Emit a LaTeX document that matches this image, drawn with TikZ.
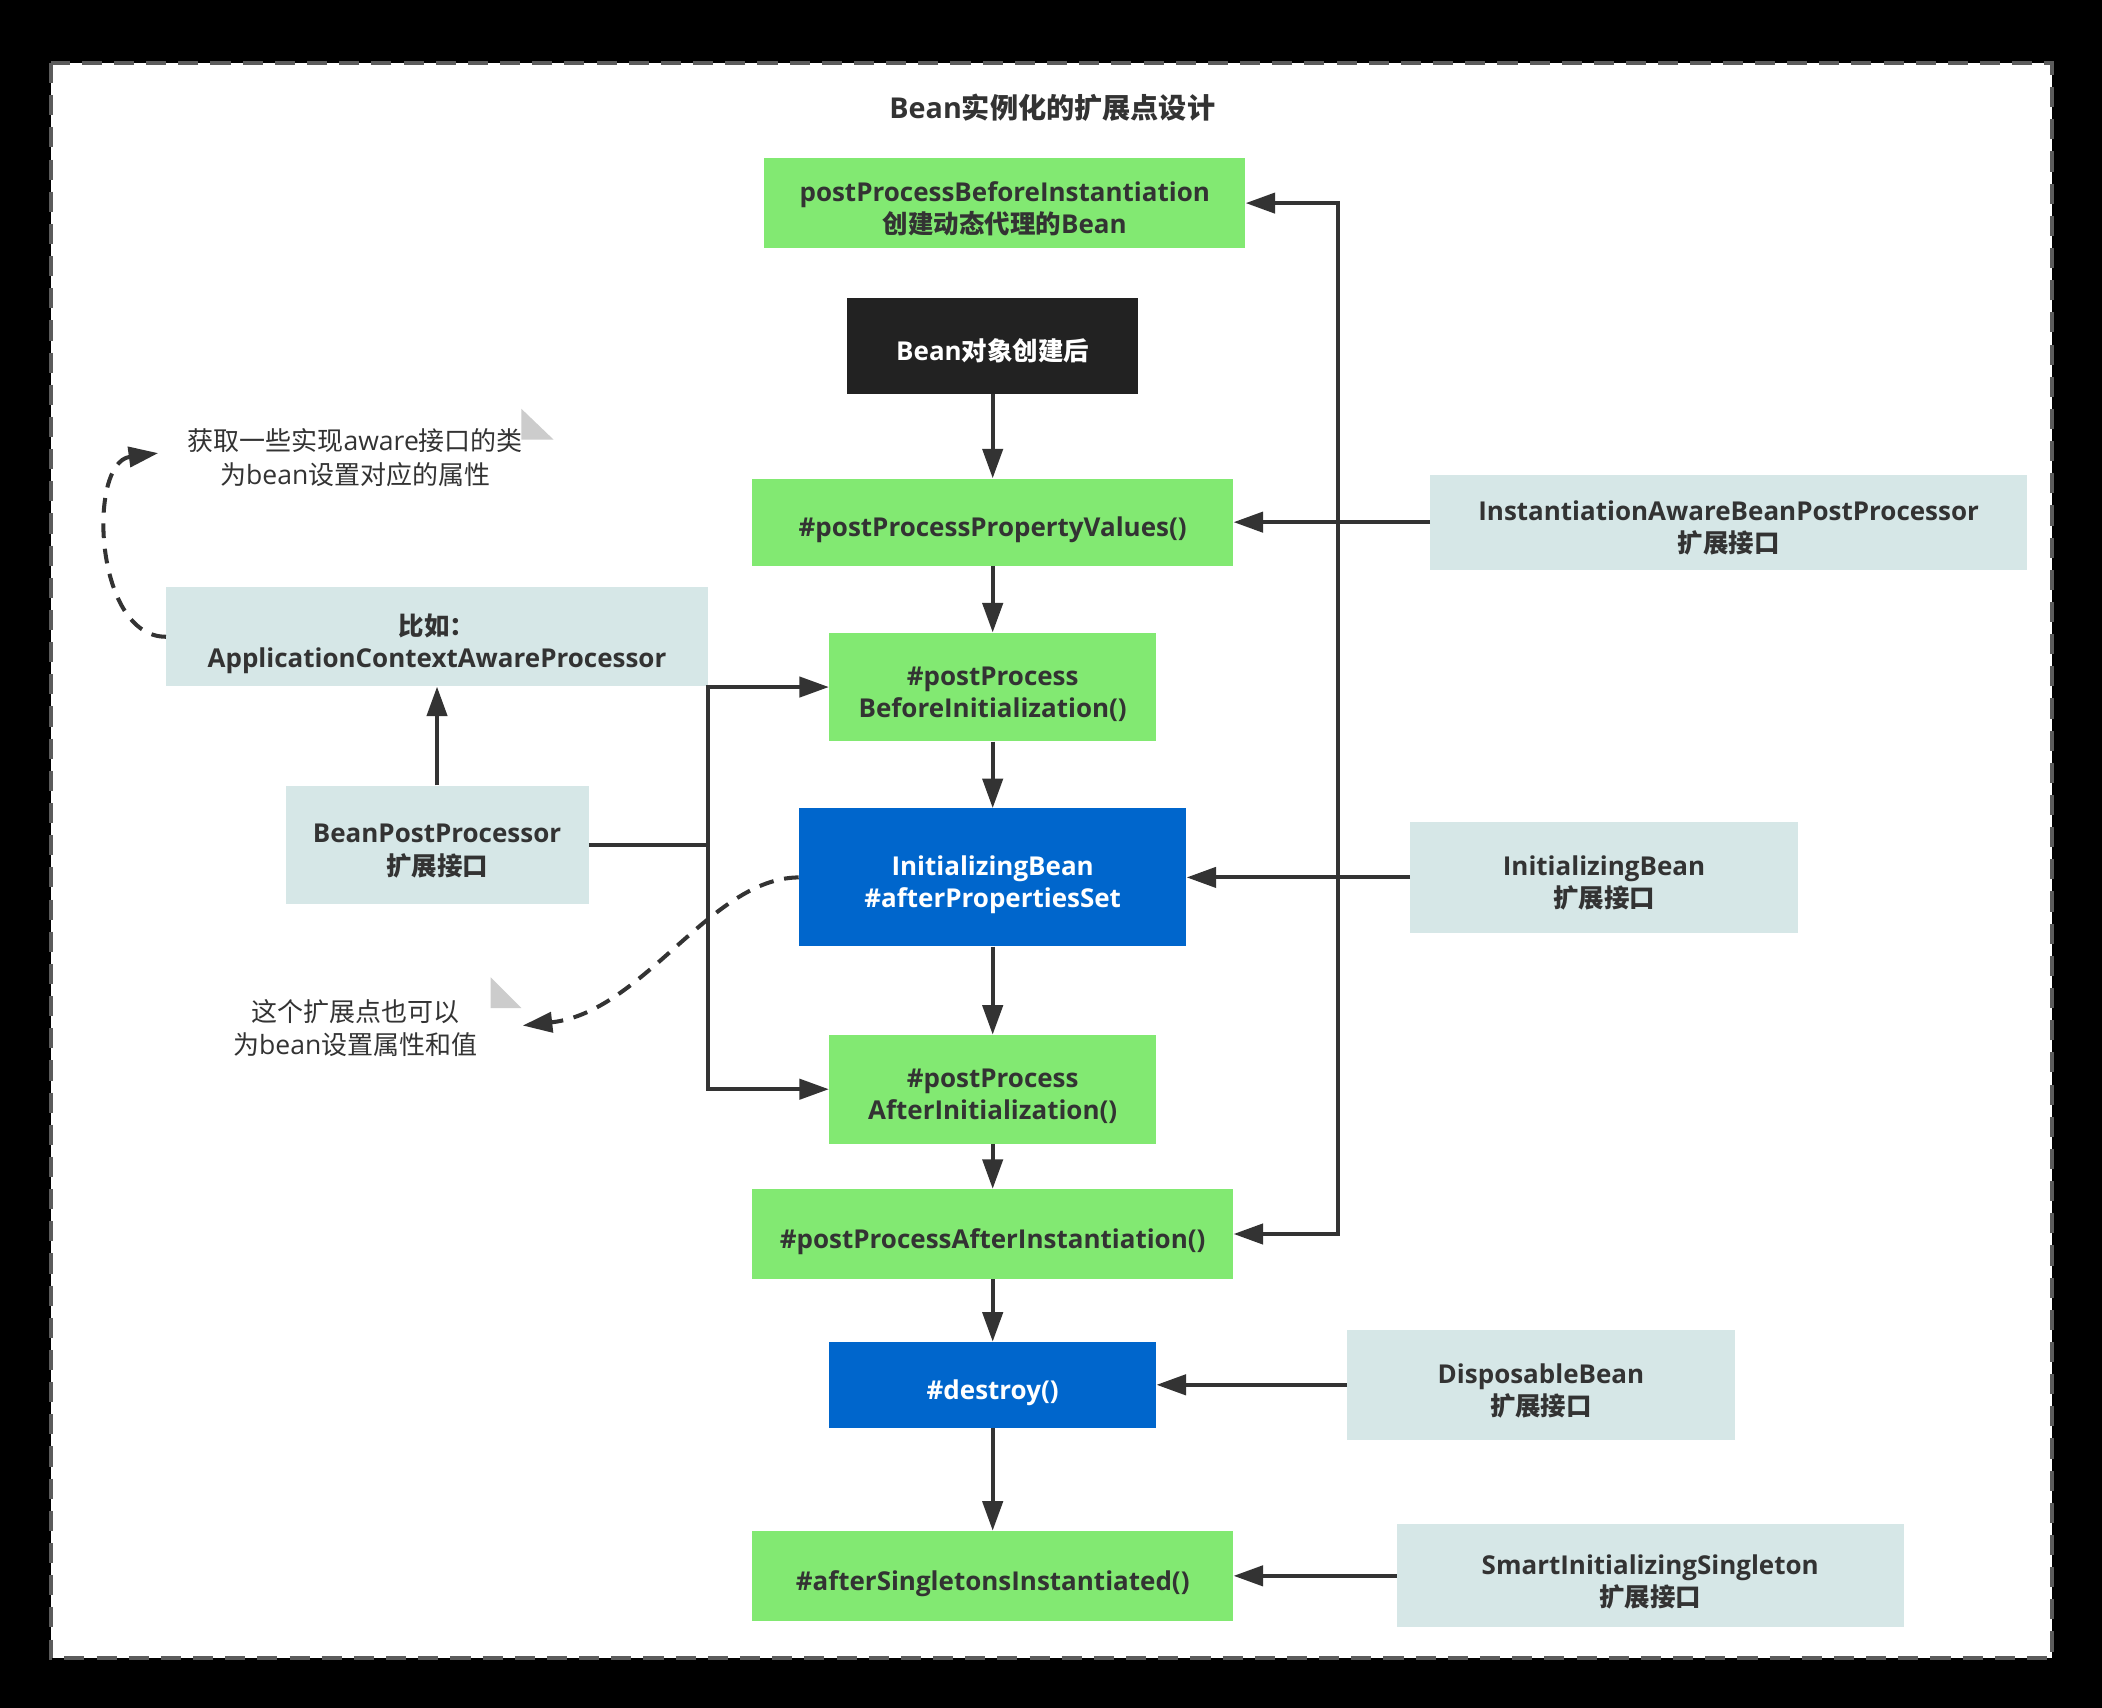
\documentclass[tikz,border=0pt]{standalone}
\usepackage{fontspec}
\setmainfont{Open Sans}[Scale=1.02]
\newfontfamily\cjk{Noto Sans CJK SC}
\usetikzlibrary{arrows.meta}
\newcommand\cj[1]{{\cjk #1}}
\definecolor{gr}{HTML}{82E972}
\definecolor{bl}{HTML}{0066CC}
\definecolor{gb}{HTML}{D6E7E7}
\definecolor{dk}{HTML}{333333}
\definecolor{blk}{HTML}{222222}
\definecolor{tri}{HTML}{CCCCCC}
\tikzset{
  base/.style={inner sep=0pt, align=center, font=\bfseries\fontsize{19}{24}\selectfont, text=dk,
    execute at begin node={\rule{0pt}{27.6pt}}, execute at end node={\rule[-6pt]{0pt}{0pt}}},
  two/.style={execute at begin node={\rule{0pt}{51.6pt}}},
  gbox/.style={base, fill=gr},
  bbox/.style={base, fill=bl, text=white},
  kbox/.style={base, fill=blk, text=white},
  ibox/.style={base, fill=gb},
  ttl/.style={inner sep=0pt, font=\bfseries\fontsize{21}{25}\selectfont, text=dk},
  note/.style={inner sep=0pt, align=center, font=\fontsize{19.4}{25}\selectfont, text=dk},
  arr/.style={draw=dk, line width=3pt, -{Triangle[length=22pt,width=15pt]}},
  ln/.style={draw=dk, line width=3pt},
  dsh/.style={draw=dk, line width=3pt, dash pattern=on 11pt off 8pt, -{Triangle[length=22pt,width=15pt]}},
}
\begin{document}
\begin{tikzpicture}[x=1pt,y=-1pt]
\useasboundingbox (0,0) rectangle (1568,1274);
\fill[black] (0,0) rectangle (1568,1274);
\draw[line width=3pt, draw=dk!80!white, dash pattern=on 15pt off 9pt, fill=white] (38,47) rectangle (1531,1237);

\node[ttl] (title) at (785,80) {Bean\cj{实例化的扩展点设计}};

\node[gbox, two, minimum width=359pt, minimum height=67pt] (pbi) at (749.5,151.5) {postProcessBeforeInstantiation\\\cj{创建动态代理的}Bean};
\node[kbox, minimum width=217pt, minimum height=72pt] (created) at (740.5,258) {Bean\cj{对象创建后}};
\node[gbox, minimum width=359pt, minimum height=65pt] (pv) at (740.5,389.5) {\#postProcessPropertyValues()};
\node[gbox, two, minimum width=244pt, minimum height=81pt] (bi) at (740.5,512.5) {\#postProcess\\BeforeInitialization()};
\node[bbox, two, minimum width=289pt, minimum height=103pt] (ib) at (740.5,654.5) {InitializingBean\\\#afterPropertiesSet};
\node[gbox, two, minimum width=244pt, minimum height=81pt] (ai) at (740.5,812.5) {\#postProcess\\AfterInitialization()};
\node[gbox, minimum width=359pt, minimum height=67pt] (pai) at (740.5,920.5) {\#postProcessAfterInstantiation()};
\node[bbox, minimum width=244pt, minimum height=64pt] (des) at (740.5,1033) {\#destroy()};
\node[gbox, minimum width=359pt, minimum height=67pt] (asi) at (740.5,1175.5) {\#afterSingletonsInstantiated()};

\node[ibox, two, minimum width=445pt, minimum height=71pt] (iabpp) at (1289.5,389.5) {InstantiationAwareBeanPostProcessor\\\cj{扩展接口}};
\node[ibox, two, minimum width=289pt, minimum height=83pt] (ibx) at (1196.5,654.5) {InitializingBean\\\cj{扩展接口}};
\node[ibox, two, minimum width=289pt, minimum height=82pt] (dbx) at (1149.5,1033) {DisposableBean\\\cj{扩展接口}};
\node[ibox, two, minimum width=378pt, minimum height=77pt] (sis) at (1231,1175.5) {SmartInitializingSingleton\\\cj{扩展接口}};

\node[ibox, two, minimum width=404pt, minimum height=74pt] (eg) at (326,475) {\cj{比如：}\\ApplicationContextAwareProcessor};
\node[ibox, two, minimum width=226pt, minimum height=88pt] (bpp) at (326,630) {BeanPostProcessor\\\cj{扩展接口}};

\node[note] (n1) at (265,341.5) {\cj{获取一些实现}aware\cj{接口的类}\\\cj{为}bean\cj{设置对应的属性}};
\node[note] (n2) at (265,767) {\cj{这个扩展点也可以}\\\cj{为}bean\cj{设置属性和值}};
\fill[tri] (389,305) -- (389,328) -- (413,328) -- cycle;
\fill[tri] (366,729) -- (366,752) -- (389,752) -- cycle;

% main flow
\draw[arr] (created) -- (pv);
\draw[arr] (pv) -- (bi);
\draw[arr] (bi) -- (ib);
\draw[arr] (ib) -- (ai);
\draw[arr] (ai) -- (pai);
\draw[arr] (pai) -- (des);
\draw[arr] (des) -- (asi);

% right side
\draw[arr] (iabpp.west) -- (pv.east);
\coordinate (j1) at (998,389.5);
\draw[arr] (j1) |- (pbi.east);
\draw[arr] (j1) |- (pai.east);
\draw[arr] (ibx.west) -- (ib.east);
\draw[arr] (dbx.west) -- (des.east);
\draw[arr] (sis.west) -- (asi.east);

% left side
\coordinate (j2) at (528,630);
\draw[ln] (bpp.east) -- (j2);
\draw[arr] (j2) |- (bi.west);
\draw[arr] (j2) |- (ai.west);
\draw[arr] (bpp.north) -- (eg.south);

% dashed notes
\coordinate (t1) at (118,338);
\coordinate (t2) at (390,765);
\draw[dsh] (eg.west) .. controls (70,475) and (65,345) .. (t1);
\draw[dsh] (ib.west) .. controls (530,655) and (480,755) .. (t2);
\end{tikzpicture}
\end{document}
